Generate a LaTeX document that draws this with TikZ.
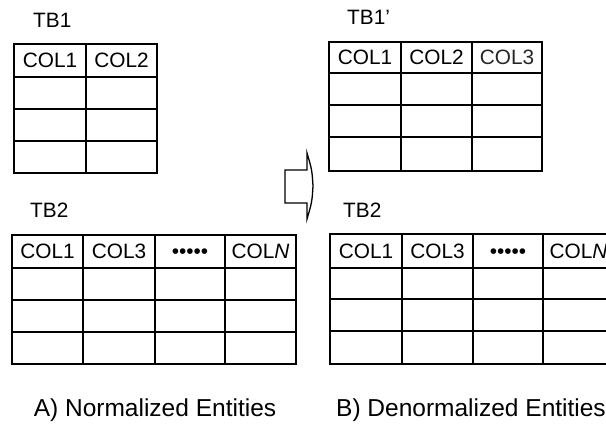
\documentclass[tikz,border=0pt]{standalone}
\usepackage{fontspec}
\setmainfont{Liberation Sans}
\begin{document}
\begin{tikzpicture}[x=1pt, y=-1pt,
  tbl/.style={line width=1.8pt, line join=miter},
  cell/.style={font=\fontsize{20.8}{24}\selectfont, inner sep=0pt},
  title/.style={font=\fontsize{20.8}{24}\selectfont, anchor=west, inner sep=0pt},
  caption/.style={font=\fontsize{24.5}{29}\selectfont, inner sep=0pt}]

\useasboundingbox (0,0) rectangle (606,427);
\clip (0,0) rectangle (606,427);

%TB1 Drawing

\draw [tbl] (14,44) rectangle (157,173);
\draw [tbl] (86,44) -- (86,173);
\draw [tbl] (14,77) -- (157,77) (14,109) -- (157,109) (14,141) -- (157,141);
\node [title] (tb1) at (33,20) {TB1};
\node [cell] (tb1col1) at (50,60.5) {COL1};
\node [cell] (tb1col2) at (121.5,60.5) {COL2};

%TB1' Drawing

\draw [tbl] (329,42) rectangle (542,171);
\draw [tbl] (401,42) -- (401,171) (472,42) -- (472,171);
\draw [tbl] (329,73) -- (542,73) (329,105) -- (542,105) (329,137) -- (542,137);
\node [title] (tb1p) at (347,17) {TB1'};
\node [cell] (tb1pcol1) at (365,57.5) {COL1};
\node [cell] (tb1pcol2) at (436.5,57.5) {COL2};
\node [cell, black!85] (tb1pcol3) at (507,57.5) {COL3};

%TB2 Drawings

\draw [tbl] (12,235) rectangle (296,364);
\draw [tbl] (83,235) -- (83,364) (155,235) -- (155,364) (225,235) -- (225,364);
\draw [tbl] (12,268) -- (296,268) (12,300) -- (296,300) (12,332) -- (296,332);
\node [title] (tb2a) at (30,210) {TB2};
\node [cell] (tb2acol1) at (47.5,251.5) {COL1};
\node [cell] (tb2acol3) at (119,251.5) {COL3};
\node [cell] (tb2adots) at (190,254) {•••••};
\node [cell] (tb2acoln) at (260.5,251.5) {COL\textit{N}};

\draw [tbl] (330,234) rectangle (614,364);
\draw [tbl] (402,234) -- (402,364) (473,234) -- (473,364) (543,234) -- (543,364);
\draw [tbl] (330,268) -- (614,268) (330,299) -- (614,299) (330,331) -- (614,331);
\node [title] (tb2b) at (343,210) {TB2};
\node [cell] (tb2bcol1) at (366,251) {COL1};
\node [cell] (tb2bcol3) at (437.5,251) {COL3};
\node [cell] (tb2bdots) at (508,253.5) {•••••};
\node [cell] (tb2bcoln) at (578.5,251) {COL\textit{N}};

%Arrow

\draw [line width=1.3pt] (285,170) -- (307,170) -- (307,153)
  .. controls (312,170) .. (313,186) .. controls (312,202) .. (307,219)
  -- (307,203) -- (285,203) -- cycle;

%Captions

\node [caption] (capa) at (155,410) {A) Normalized Entities};
\node [caption] (capb) at (471,410) {B) Denormalized Entities};

\end{tikzpicture}
\end{document}
